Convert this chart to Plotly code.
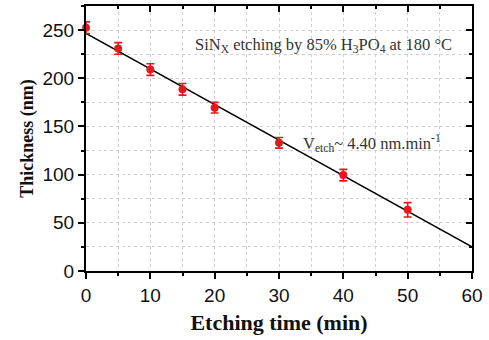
import plotly.graph_objects as go

# Data
time_min = [0, 5, 10, 15, 20, 30, 40, 50]
thickness_nm = [252.5, 231, 209, 188.5, 169.5, 133, 99.5, 63.5]
thickness_err = [6, 6, 6, 6, 5.5, 5.5, 6, 7.5]
fit_x = [0, 60]
fit_y = [246.5, 25]

x_ticks = [0, 10, 20, 30, 40, 50, 60]
y_ticks = [0, 50, 100, 150, 200, 250]

serif = "Liberation Serif, Times New Roman, serif"
sans = "Liberation Sans, Arial, sans-serif"

fig = go.Figure()
fig.add_trace(go.Scatter(x=fit_x, y=fit_y, mode="lines",
                         line=dict(color="black", width=1.6),
                         showlegend=False, hoverinfo="skip"))
fig.add_trace(go.Scatter(x=time_min, y=thickness_nm, mode="markers",
                         marker=dict(color="#e3191c", size=8),
                         error_y=dict(type="data", array=thickness_err, color="#e3191c",
                                      thickness=1.6, width=4),
                         cliponaxis=False, showlegend=False))
# invisible trace to show mirrored inside-tick axes
fig.add_trace(go.Scatter(x=[30], y=[100], xaxis="x2", yaxis="y2", mode="markers",
                         marker=dict(opacity=0), showlegend=False, hoverinfo="skip"))

grid = dict(showgrid=True, gridcolor="#cfcfcf", gridwidth=1, griddash="dot")

fig.update_layout(
    width=489, height=340,
    margin=dict(l=86, r=13, t=6, b=69),
    paper_bgcolor="white", plot_bgcolor="white",
    xaxis=dict(range=[0, 60], tickvals=x_ticks, ticks="outside", ticklen=6, tickwidth=2,
               tickcolor="black", showline=True, linecolor="black", linewidth=2,
               tickfont=dict(family=sans, size=19, color="#111"),
               title=dict(text="<b>Etching time (min)</b>",
                          font=dict(family=serif, size=22, color="#111"), standoff=10),
               minor=dict(dtick=5, ticks="outside", ticklen=3, tickwidth=2, tickcolor="black",
                          **grid),
               zeroline=False, **grid),
    yaxis=dict(range=[0, 275], tickvals=y_ticks, ticks="outside", ticklen=6, tickwidth=2,
               tickcolor="black", showline=True, linecolor="black", linewidth=2,
               tickfont=dict(family=sans, size=19, color="#111"),
               title=dict(text="<b>Thickness (nm)</b>",
                          font=dict(family=serif, size=18, color="#111"), standoff=4),
               minor=dict(dtick=25, ticks="outside", ticklen=3, tickwidth=2, tickcolor="black",
                          **grid),
               zeroline=False, **grid),
    xaxis2=dict(range=[0, 60], overlaying="x", side="top", tickvals=x_ticks,
                ticks="inside", ticklen=6, tickwidth=2, tickcolor="black",
                showline=True, linecolor="black", linewidth=2, showticklabels=False,
                showgrid=False, zeroline=False,
                minor=dict(dtick=5, ticks="inside", ticklen=3, tickwidth=2,
                           tickcolor="black", showgrid=False)),
    yaxis2=dict(range=[0, 275], overlaying="y", side="right", tickvals=y_ticks,
                ticks="inside", ticklen=6, tickwidth=2, tickcolor="black",
                showline=True, linecolor="black", linewidth=2, showticklabels=False,
                showgrid=False, zeroline=False,
                minor=dict(dtick=25, ticks="inside", ticklen=3, tickwidth=2,
                           tickcolor="black", showgrid=False)),
    annotations=[
        dict(x=16.6, y=235, xref="x", yref="y", xanchor="left", yanchor="middle",
             text="SiN<sub>X</sub> etching by 85% H<sub>3</sub>PO<sub>4</sub> at 180 °C",
             showarrow=False, font=dict(family=serif, size=16.5, color="#333")),
        dict(x=33.4, y=133, xref="x", yref="y", xanchor="left", yanchor="middle",
             text="V<sub>etch</sub>~ 4.40 nm.min<sup>-1</sup>",
             showarrow=False, font=dict(family=serif, size=16.5, color="#333")),
    ],
)

fig.write_html("out.html")
